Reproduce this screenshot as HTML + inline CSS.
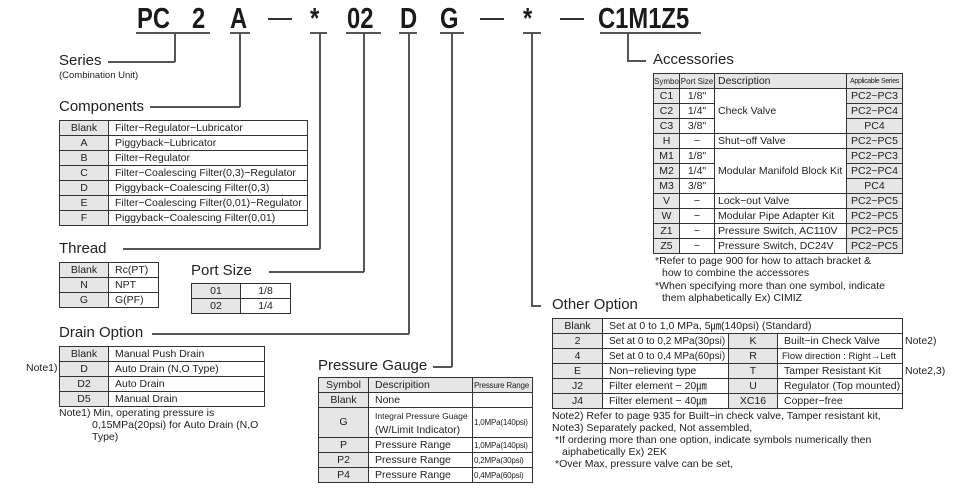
<!DOCTYPE html>
<html><head><meta charset="utf-8"><style>
body{margin:0;width:969px;height:489px;background:#fff;position:relative;overflow:hidden;font-family:"Liberation Sans","Noto Sans CJK KR",sans-serif;color:#222}
.t{position:absolute;font-weight:bold;font-size:29px;top:3px;transform:scaleX(0.82);transform-origin:left top;color:#1a1a1a}
.h{position:absolute;background:#555}
.ttl{position:absolute;font-size:15px;white-space:nowrap;color:#222}
table{position:absolute;border-collapse:collapse;font-size:10.5px;table-layout:fixed}
td{border:1.3px solid #333;padding:0 0 0 6px;height:14px;line-height:13px;white-space:nowrap;overflow:hidden}
td.g{background:#e6e6e6;text-align:center;padding:0}
td.c{text-align:center;padding:0}
td.pr{font-size:8px;padding:0 1px;letter-spacing:-0.2px}
.n{position:absolute;font-size:10.5px;line-height:13px;white-space:nowrap}
</style></head><body>
<span class="t" style="left:137px">PC</span>
<span class="t" style="left:192px">2</span>
<span class="t" style="left:230px">A</span>
<span class="t" style="left:310px">*</span>
<span class="t" style="left:347px">02</span>
<span class="t" style="left:400px">D</span>
<span class="t" style="left:440px">G</span>
<span class="t" style="left:523px">*</span>
<span class="t" style="left:598px">C1M1Z5</span>
<div class="h" style="left:268px;top:18px;width:24px;height:2px;background:#333"></div>
<div class="h" style="left:480px;top:18px;width:24px;height:2px;background:#333"></div>
<div class="h" style="left:560px;top:18px;width:24px;height:2px;background:#333"></div>
<div class="h" style="left:136px;top:32px;width:74px;height:1.5px"></div>
<div class="h" style="left:230px;top:32px;width:20px;height:1.5px"></div>
<div class="h" style="left:310px;top:32px;width:17px;height:1.5px"></div>
<div class="h" style="left:346px;top:32px;width:35px;height:1.5px"></div>
<div class="h" style="left:399px;top:32px;width:18px;height:1.5px"></div>
<div class="h" style="left:440px;top:32px;width:24px;height:1.5px"></div>
<div class="h" style="left:523px;top:32px;width:18px;height:1.5px"></div>
<div class="h" style="left:600px;top:32px;width:101px;height:1.5px"></div>
<div class="h" style="left:174px;top:33px;width:1.5px;height:29px"></div>
<div class="h" style="left:108px;top:61px;width:67px;height:1.5px"></div>
<div class="h" style="left:239px;top:33px;width:1.5px;height:74px"></div>
<div class="h" style="left:150px;top:106px;width:90px;height:1.5px"></div>
<div class="h" style="left:319px;top:33px;width:1.5px;height:216px"></div>
<div class="h" style="left:123px;top:248px;width:197px;height:1.5px"></div>
<div class="h" style="left:363px;top:33px;width:1.5px;height:239px"></div>
<div class="h" style="left:269px;top:271px;width:95px;height:1.5px"></div>
<div class="h" style="left:408px;top:33px;width:1.5px;height:301px"></div>
<div class="h" style="left:152px;top:333px;width:257px;height:1.5px"></div>
<div class="h" style="left:451px;top:33px;width:1.5px;height:334px"></div>
<div class="h" style="left:433px;top:366px;width:19px;height:1.5px"></div>
<div class="h" style="left:531px;top:33px;width:1.5px;height:273px"></div>
<div class="h" style="left:531px;top:305px;width:10px;height:1.5px"></div>
<div class="h" style="left:627px;top:33px;width:1.5px;height:28px"></div>
<div class="h" style="left:627px;top:60px;width:19px;height:1.5px"></div>

<div class="ttl" style="left:59px;top:52px">Series</div>
<div class="n" style="left:59px;top:69px;font-size:9.5px">(Combination Unit)</div>
<div class="ttl" style="left:59px;top:98px">Components</div>
<table style="left:59px;top:120px;width:249px">
<colgroup><col style="width:49px"><col></colgroup>
<tr><td class="g">Blank</td><td>Filter−Regulator−Lubricator</td></tr>
<tr><td class="g">A</td><td>Piggyback−Lubricator</td></tr>
<tr><td class="g">B</td><td>Filter−Regulator</td></tr>
<tr><td class="g">C</td><td>Filter−Coalescing Filter(0,3)−Regulator</td></tr>
<tr><td class="g">D</td><td>Piggyback−Coalescing Filter(0,3)</td></tr>
<tr><td class="g">E</td><td>Filter−Coalescing Filter(0,01)−Regulator</td></tr>
<tr><td class="g">F</td><td>Piggyback−Coalescing Filter(0,01)</td></tr>
</table>
<div class="ttl" style="left:59px;top:240px">Thread</div>
<table style="left:59px;top:262px;width:100px">
<colgroup><col style="width:49px"><col></colgroup>
<tr><td class="g">Blank</td><td>Rc(PT)</td></tr>
<tr><td class="g">N</td><td>NPT</td></tr>
<tr><td class="g">G</td><td>G(PF)</td></tr>
</table>
<div class="ttl" style="left:191px;top:262px">Port Size</div>
<table style="left:191px;top:283px;width:100px">
<colgroup><col style="width:49px"><col></colgroup>
<tr><td class="g">01</td><td class="c">1/8</td></tr>
<tr><td class="g">02</td><td class="c">1/4</td></tr>
</table>
<div class="ttl" style="left:59px;top:324px">Drain Option</div>
<div class="n" style="left:26px;top:362px">Note1)</div>
<table style="left:59px;top:346px;width:206px">
<colgroup><col style="width:49px"><col></colgroup>
<tr><td class="g">Blank</td><td>Manual Push Drain</td></tr>
<tr><td class="g">D</td><td>Auto Drain (N,O Type)</td></tr>
<tr><td class="g">D2</td><td>Auto Drain</td></tr>
<tr><td class="g">D5</td><td>Manual Drain</td></tr>
</table>
<div class="n" style="left:59px;top:407px">Note1) Min, operating pressure is</div>
<div class="n" style="left:92px;top:419px">0,15MPa(20psi) for Auto Drain (N,O</div>
<div class="n" style="left:92px;top:431px">Type)</div>

<div class="ttl" style="left:318px;top:357px">Pressure Gauge</div>
<table style="left:318px;top:377px;width:215px">
<colgroup><col style="width:50px"><col style="width:104px"><col></colgroup>
<tr><td class="g">Symbol</td><td style="background:#e6e6e6">Descripition</td><td class="pr" style="background:#e6e6e6">Pressure Range</td></tr>
<tr><td class="g">Blank</td><td>None</td><td></td></tr>
<tr><td class="g" style="height:29px">G</td><td style="font-size:8.5px;line-height:14px">Integral Pressure Guage<br><span style="font-size:10.5px">(W/Limit Indicator)</span></td><td class="pr">1,0MPa(140psi)</td></tr>
<tr><td class="g">P</td><td>Pressure Range</td><td class="pr">1,0MPa(140psi)</td></tr>
<tr><td class="g">P2</td><td>Pressure Range</td><td class="pr">0,2MPa(30psi)</td></tr>
<tr><td class="g">P4</td><td>Pressure Range</td><td class="pr">0,4MPa(60psi)</td></tr>
</table>

<div class="ttl" style="left:653px;top:51px">Accessories</div>
<table style="left:653px;top:73px;width:250px">
<colgroup><col style="width:26px"><col style="width:35px"><col style="width:132px"><col></colgroup>
<tr><td class="g" style="font-size:8px">Symbol</td><td class="g" style="font-size:8px">Port Size</td><td style="background:#e6e6e6;padding-left:3px">Description</td><td class="g" style="font-size:7px;letter-spacing:-0.3px">Applicable Series</td></tr>
<tr><td class="g">C1</td><td class="c">1/8"</td><td rowspan="3" style="padding-left:3px">Check Valve</td><td class="g">PC2~PC3</td></tr>
<tr><td class="g">C2</td><td class="c">1/4"</td><td class="g">PC2~PC4</td></tr>
<tr><td class="g">C3</td><td class="c">3/8"</td><td class="g">PC4</td></tr>
<tr><td class="g">H</td><td class="c">−</td><td style="padding-left:3px">Shut−off Valve</td><td class="g">PC2~PC5</td></tr>
<tr><td class="g">M1</td><td class="c">1/8"</td><td rowspan="3" style="padding-left:3px">Modular Manifold Block Kit</td><td class="g">PC2~PC3</td></tr>
<tr><td class="g">M2</td><td class="c">1/4"</td><td class="g">PC2~PC4</td></tr>
<tr><td class="g">M3</td><td class="c">3/8"</td><td class="g">PC4</td></tr>
<tr><td class="g">V</td><td class="c">−</td><td style="padding-left:3px">Lock−out Valve</td><td class="g">PC2~PC5</td></tr>
<tr><td class="g">W</td><td class="c">−</td><td style="padding-left:3px">Modular Pipe Adapter Kit</td><td class="g">PC2~PC5</td></tr>
<tr><td class="g">Z1</td><td class="c">−</td><td style="padding-left:3px">Pressure Switch, AC110V</td><td class="g">PC2~PC5</td></tr>
<tr><td class="g">Z5</td><td class="c">−</td><td style="padding-left:3px">Pressure Switch, DC24V</td><td class="g">PC2~PC5</td></tr>
</table>
<div class="n" style="left:655px;top:255px">*Refer to page 900 for how to attach bracket &amp;</div>
<div class="n" style="left:662px;top:267px">how to combine the accessores</div>
<div class="n" style="left:655px;top:280px">*When specifying more than one symbol, indicate</div>
<div class="n" style="left:662px;top:292px">them alphabetically Ex) CIMIZ</div>

<div class="ttl" style="left:552px;top:296px">Other Option</div>
<table style="left:552px;top:318px;width:351px">
<colgroup><col style="width:50px"><col style="width:126px"><col style="width:49px"><col></colgroup>
<tr><td class="g">Blank</td><td colspan="3">Set at 0 to 1,0 MPa, 5㎛(140psi) (Standard)</td></tr>
<tr><td class="g">2</td><td style="font-size:10px">Set at 0 to 0,2 MPa(30psi)</td><td class="g">K</td><td>Built−in Check Valve</td></tr>
<tr><td class="g">4</td><td style="font-size:10px">Set at 0 to 0,4 MPa(60psi)</td><td class="g">R</td><td style="font-size:9.5px;padding-left:4px">Flow direction : Right→Left</td></tr>
<tr><td class="g">E</td><td>Non−relieving type</td><td class="g">T</td><td>Tamper Resistant Kit</td></tr>
<tr><td class="g">J2</td><td>Filter element − 20㎛</td><td class="g">U</td><td>Regulator (Top mounted)</td></tr>
<tr><td class="g">J4</td><td>Filter element − 40㎛</td><td class="g">XC16</td><td>Copper−free</td></tr>
</table>
<div class="n" style="left:905px;top:335px">Note2)</div>
<div class="n" style="left:905px;top:365px">Note2,3)</div>
<div class="n" style="left:552px;top:410px">Note2) Refer to page 935 for Built−in check valve, Tamper resistant kit,</div>
<div class="n" style="left:552px;top:422px">Note3) Separately packed, Not assembled,</div>
<div class="n" style="left:555px;top:434px">*If ordering more than one option, indicate symbols numerically then</div>
<div class="n" style="left:562px;top:446px">aiphabetically Ex) 2EK</div>
<div class="n" style="left:555px;top:458px">*Over Max, pressure valve can be set,</div>
</body></html>
